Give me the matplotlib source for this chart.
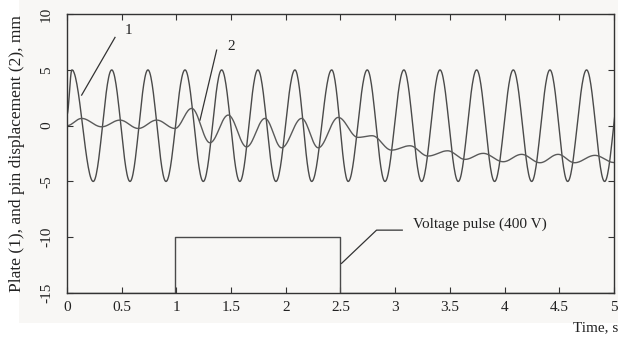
import numpy as np
import matplotlib
matplotlib.use('Agg')
import matplotlib.pyplot as plt

# curve 1: plate displacement, turning points (s, mm)
plate_t = [0.0, 0.045, 0.24, 0.409, 0.576, 0.740, 0.905, 1.079, 1.246, 1.414, 1.58,
           1.745, 1.91, 2.084, 2.237, 2.42, 2.571, 2.745, 2.907, 3.08, 3.242, 3.41,
           3.577, 3.745, 3.909, 4.08, 4.248, 4.415, 4.577, 4.75, 4.915, 5.08]
plate_v = [1.0, 5, -5, 5, -5, 5, -5, 5, -5, 5, -5,
           5, -5, 5, -5, 5, -5, 5, -5, 5, -5, 5,
           -5, 5, -5, 5, -5, 5, -5, 5, -5, 5]

# curve 2: pin displacement, turning points (s, mm)
pin_t = [0.0, 0.134, 0.317, 0.484, 0.652, 0.82, 0.987, 1.14, 1.307, 1.474, 1.642,
         1.81, 1.962, 2.145, 2.297, 2.48, 2.66, 2.79, 2.967, 3.135, 3.30, 3.48,
         3.638, 3.805, 3.988, 4.156, 4.324, 4.49, 4.64, 4.826, 5.0]
pin_v = [0.0, 0.65, -0.1, 0.5, -0.25, 0.5, -0.25, 1.55, -1.53, 0.95, -1.9,
         0.65, -1.98, 0.65, -1.98, 0.74, -1.05, -0.9, -2.19, -1.8, -2.72, -2.25,
         -3.02, -2.48, -3.23, -2.57, -3.32, -2.57, -3.32, -2.66, -3.3]

# voltage pulse trace
pulse_t = [0.0, 0.987, 0.987, 2.5, 2.5, 5.0]
pulse_v = [-15, -15, -10, -10, -15, -15]


def smooth(ts, vs, n=30):
    # half-cosine between consecutive turning points
    xs, ys = [], []
    for i in range(len(ts) - 1):
        s = np.linspace(0, 1, n, endpoint=False)
        xs.append(ts[i] + (ts[i + 1] - ts[i]) * s)
        ys.append(vs[i] + (vs[i + 1] - vs[i]) * (1 - np.cos(np.pi * s)) / 2)
    xs.append([ts[-1]])
    ys.append([vs[-1]])
    return np.concatenate(xs), np.concatenate(ys)


def main():
    plt.rcParams['font.family'] = ['Liberation Serif', 'DejaVu Serif']
    plt.rcParams['font.size'] = 11
    plt.rcParams['axes.unicode_minus'] = False
    bg = '#f8f7f5'
    fig = plt.figure(figsize=(6.18, 3.4), dpi=100, facecolor='white')
    fig.patches.append(plt.Rectangle((0.03, 0.05), 0.97, 0.95, transform=fig.transFigure,
                                     facecolor=bg, edgecolor='none', zorder=-10))
    ax = fig.add_axes([0.1084, 0.138, 0.885, 0.8206])
    ax.set_facecolor(bg)

    lc = '#4a4a4a'
    x1, y1 = smooth(plate_t, plate_v)
    x2, y2 = smooth(pin_t, pin_v)
    ax.plot(x1, y1, color=lc, lw=1.0)
    ax.plot(x2, y2, color='#5a5a5a', lw=1.0)
    ax.plot(pulse_t, pulse_v, color=lc, lw=1.0)

    ax.set_xlim(0, 5)
    ax.set_ylim(-15, 10)
    ax.set_xticks(np.arange(0, 5.01, 0.5))
    ax.set_xticklabels(['0', '0.5', '1', '1.5', '2', '2.5', '3', '3.5', '4', '4.5', '5'])
    ax.set_yticks([-15, -10, -5, 0, 5, 10])
    for lab in ax.get_yticklabels():
        lab.set_rotation(90)
        lab.set_va('center')
    ax.tick_params(direction='in', top=True, right=True, length=4, width=0.8,
                   colors='#333333', labelcolor='#222222', pad=6)
    ax.tick_params(axis='y', pad=10)
    for sp in ax.spines.values():
        sp.set_color('#333333')
        sp.set_linewidth(1.0)

    ax.set_ylabel('Plate (1), and pin displacement (2), mm', fontsize=12.5,
                  labelpad=11, color='#222222')
    fig.text(0.927, 0.025, 'Time, s', color='#222222')

    # labels with leader lines
    ax.plot([0.134, 0.439], [2.74, 7.91], color='#333333', lw=0.9)
    ax.text(0.56, 8.57, '1', ha='center', va='center', color='#222222')
    ax.plot([1.216, 1.368], [0.5, 6.77], color='#333333', lw=0.9)
    ax.text(1.5, 7.13, '2', ha='center', va='center', color='#222222')
    ax.plot([2.51, 2.83, 3.065], [-12.34, -9.36, -9.36], color='#333333', lw=0.9)
    ax.text(3.16, -8.85, 'Voltage pulse (400 V)', ha='left', va='center', color='#222222')

    plt.savefig('out.png', dpi=100, facecolor=fig.get_facecolor())


if __name__ == '__main__':
    main()
